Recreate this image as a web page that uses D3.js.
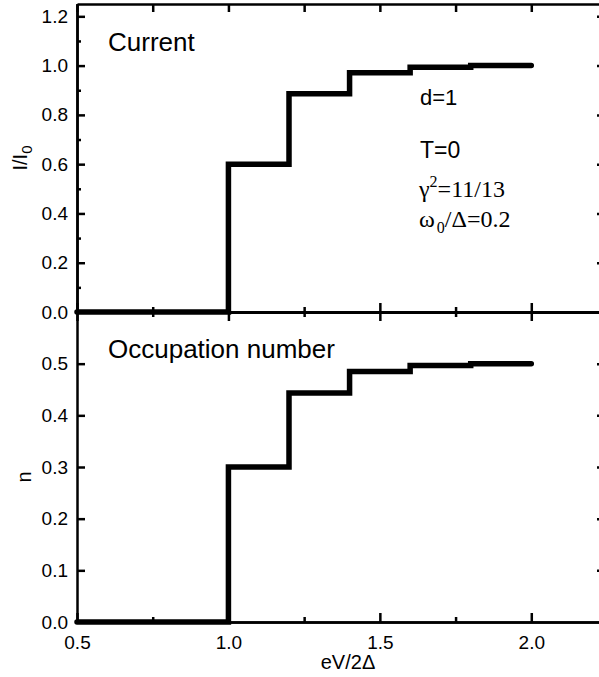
<!DOCTYPE html>
<html>
<head>
<meta charset="utf-8">
<script src="https://d3js.org/d3.v7.min.js"></script>
<style>
  body { margin: 0; background: #fff; }
  svg { display: block; font-family: "Liberation Sans", Arial, Helvetica, sans-serif; }
  .axis path, .axis line { stroke: #000; }
  .axis path { stroke-width: 2.5; }
  .axis line { stroke-width: 2.5; }
  .axis text { font-size: 19px; fill: #000; }
</style>
</head>
<body>
<div id="chart"></div>
<script>
// chart values
var voltage = [0.5, 1.0, 1.2, 1.4, 1.6, 1.8, 2.0];
var current = [0, 0.6, 0.886, 0.971, 0.993, 1.0, 1.0];
var occupation = [0, 0.3, 0.443, 0.485, 0.4965, 0.5, 0.5];
var xTicks = [0.5, 1.0, 1.5, 2.0];
var xMinor = [0.75, 1.25, 1.75, 2.25];
var currentTicks = [0, 0.2, 0.4, 0.6, 0.8, 1.0, 1.2];
var currentMinor = [0.1, 0.3, 0.5, 0.7, 0.9, 1.1];
var occTicks = [0, 0.1, 0.2, 0.3, 0.4, 0.5];

var WIDTH = 599, HEIGHT = 677;
var left = 77, right = 607;

var svg = d3.select("#chart").append("svg")
    .attr("width", WIDTH)
    .attr("height", HEIGHT);

var x = d3.scaleLinear().domain([0.5, 2.25]).range([left, right]);
var yTop = d3.scaleLinear().domain([0, 1.25]).range([312, 4]);
var yBot = d3.scaleLinear().domain([0, 0.6]).range([622, 312]);

var fmt = d3.format(".1f");

// top panel axes
svg.append("g").attr("class", "axis")
    .attr("transform", "translate(" + left + ",0)")
    .call(d3.axisLeft(yTop).tickValues(currentTicks).tickFormat(fmt).tickSizeInner(-8).tickSizeOuter(0).tickPadding(9));
svg.append("g").attr("class", "axis")
    .attr("transform", "translate(" + left + ",0)")
    .call(d3.axisLeft(yTop).tickValues(currentMinor).tickFormat("").tickSizeInner(-4).tickSizeOuter(0));
svg.append("g").attr("class", "axis")
    .attr("transform", "translate(" + right + ",0)")
    .call(d3.axisRight(yTop).tickValues(currentTicks.slice(1)).tickFormat("").tickSizeInner(-10).tickSizeOuter(0));
svg.append("g").attr("class", "axis")
    .attr("transform", "translate(0,4)")
    .call(d3.axisTop(x).tickValues(xTicks.concat(xMinor)).tickFormat("").tickSizeInner(-8).tickSizeOuter(0));
svg.append("g").attr("class", "axis")
    .attr("transform", "translate(0,312)")
    .call(d3.axisBottom(x).tickValues(xTicks).tickFormat("").tickSizeInner(-9).tickSizeOuter(0));
svg.append("g").attr("class", "axis")
    .attr("transform", "translate(0,312)")
    .call(d3.axisBottom(x).tickValues(xMinor).tickFormat("").tickSizeInner(-5).tickSizeOuter(0));

// bottom panel axes
svg.append("g").attr("class", "axis")
    .attr("transform", "translate(" + left + ",0)")
    .call(d3.axisLeft(yBot).tickValues(occTicks).tickFormat(fmt).tickSizeInner(-8).tickSizeOuter(0).tickPadding(9));
svg.append("g").attr("class", "axis")
    .attr("transform", "translate(" + right + ",0)")
    .call(d3.axisRight(yBot).tickValues(occTicks.slice(1)).tickFormat("").tickSizeInner(-10).tickSizeOuter(0));
svg.append("g").attr("class", "axis")
    .attr("transform", "translate(0,312)")
    .call(d3.axisTop(x).tickValues(xTicks).tickFormat("").tickSizeInner(-9).tickSizeOuter(0));
svg.append("g").attr("class", "axis")
    .attr("transform", "translate(0,312)")
    .call(d3.axisTop(x).tickValues(xMinor).tickFormat("").tickSizeInner(-5).tickSizeOuter(0));
svg.append("g").attr("class", "axis")
    .attr("transform", "translate(0,622)")
    .call(d3.axisBottom(x).tickValues(xTicks).tickFormat(fmt).tickSizeInner(-9).tickSizeOuter(0).tickPadding(14));
svg.append("g").attr("class", "axis")
    .attr("transform", "translate(0,622)")
    .call(d3.axisBottom(x).tickValues(xMinor).tickFormat("").tickSizeInner(-5).tickSizeOuter(0));

// step lines
var lineTop = d3.line().x(function (d, i) { return x(voltage[i]); }).y(function (d) { return yTop(d); }).curve(d3.curveStepAfter);
var lineBot = d3.line().x(function (d, i) { return x(voltage[i]); }).y(function (d) { return yBot(d); }).curve(d3.curveStepAfter);

svg.append("path").datum(current)
    .attr("d", lineTop)
    .attr("fill", "none").attr("stroke", "#000").attr("stroke-width", 5.5)
    .attr("stroke-linecap", "round");
svg.append("path").datum(occupation)
    .attr("d", lineBot)
    .attr("fill", "none").attr("stroke", "#000").attr("stroke-width", 5.5)
    .attr("stroke-linecap", "round");

// axis titles
svg.append("text")
    .attr("x", 348).attr("y", 669)
    .attr("text-anchor", "middle").style("font-size", "20px")
    .text("eV/2Δ");

var yl = svg.append("text")
    .attr("transform", "translate(27,158) rotate(-90)")
    .attr("text-anchor", "middle").style("font-size", "20px");
yl.append("tspan").text("I/I");
yl.append("tspan").attr("dy", 5).style("font-size", "15px").text("0");

svg.append("text")
    .attr("transform", "translate(31,477) rotate(-90)")
    .attr("text-anchor", "middle").style("font-size", "20px")
    .text("n");

// panel titles
svg.append("text").attr("x", 108).attr("y", 51).style("font-size", "26px").text("Current");
svg.append("text").attr("x", 108).attr("y", 358).style("font-size", "26px").text("Occupation number");

// parameters
svg.append("text").attr("x", 420).attr("y", 105).style("font-size", "22px").text("d=1");
svg.append("text").attr("x", 420).attr("y", 158).style("font-size", "23px").text("T=0");

var g1 = svg.append("text").attr("x", 419).attr("y", 197)
    .style("font-family", "'Liberation Serif', 'Times New Roman', serif").style("font-size", "24px");
g1.append("tspan").text("γ");
g1.append("tspan").attr("dy", -10).style("font-size", "16px").text("2");
g1.append("tspan").attr("dy", 10).text("=11/13");

var g2 = svg.append("text").attr("x", 419).attr("y", 227)
    .style("font-family", "'Liberation Serif', 'Times New Roman', serif").style("font-size", "24px");
g2.append("tspan").text("ω");
g2.append("tspan").attr("dy", 6).attr("dx", 2).style("font-size", "16px").text("0");
g2.append("tspan").attr("dy", -6).text("/Δ=0.2");
</script>
</body>
</html>
